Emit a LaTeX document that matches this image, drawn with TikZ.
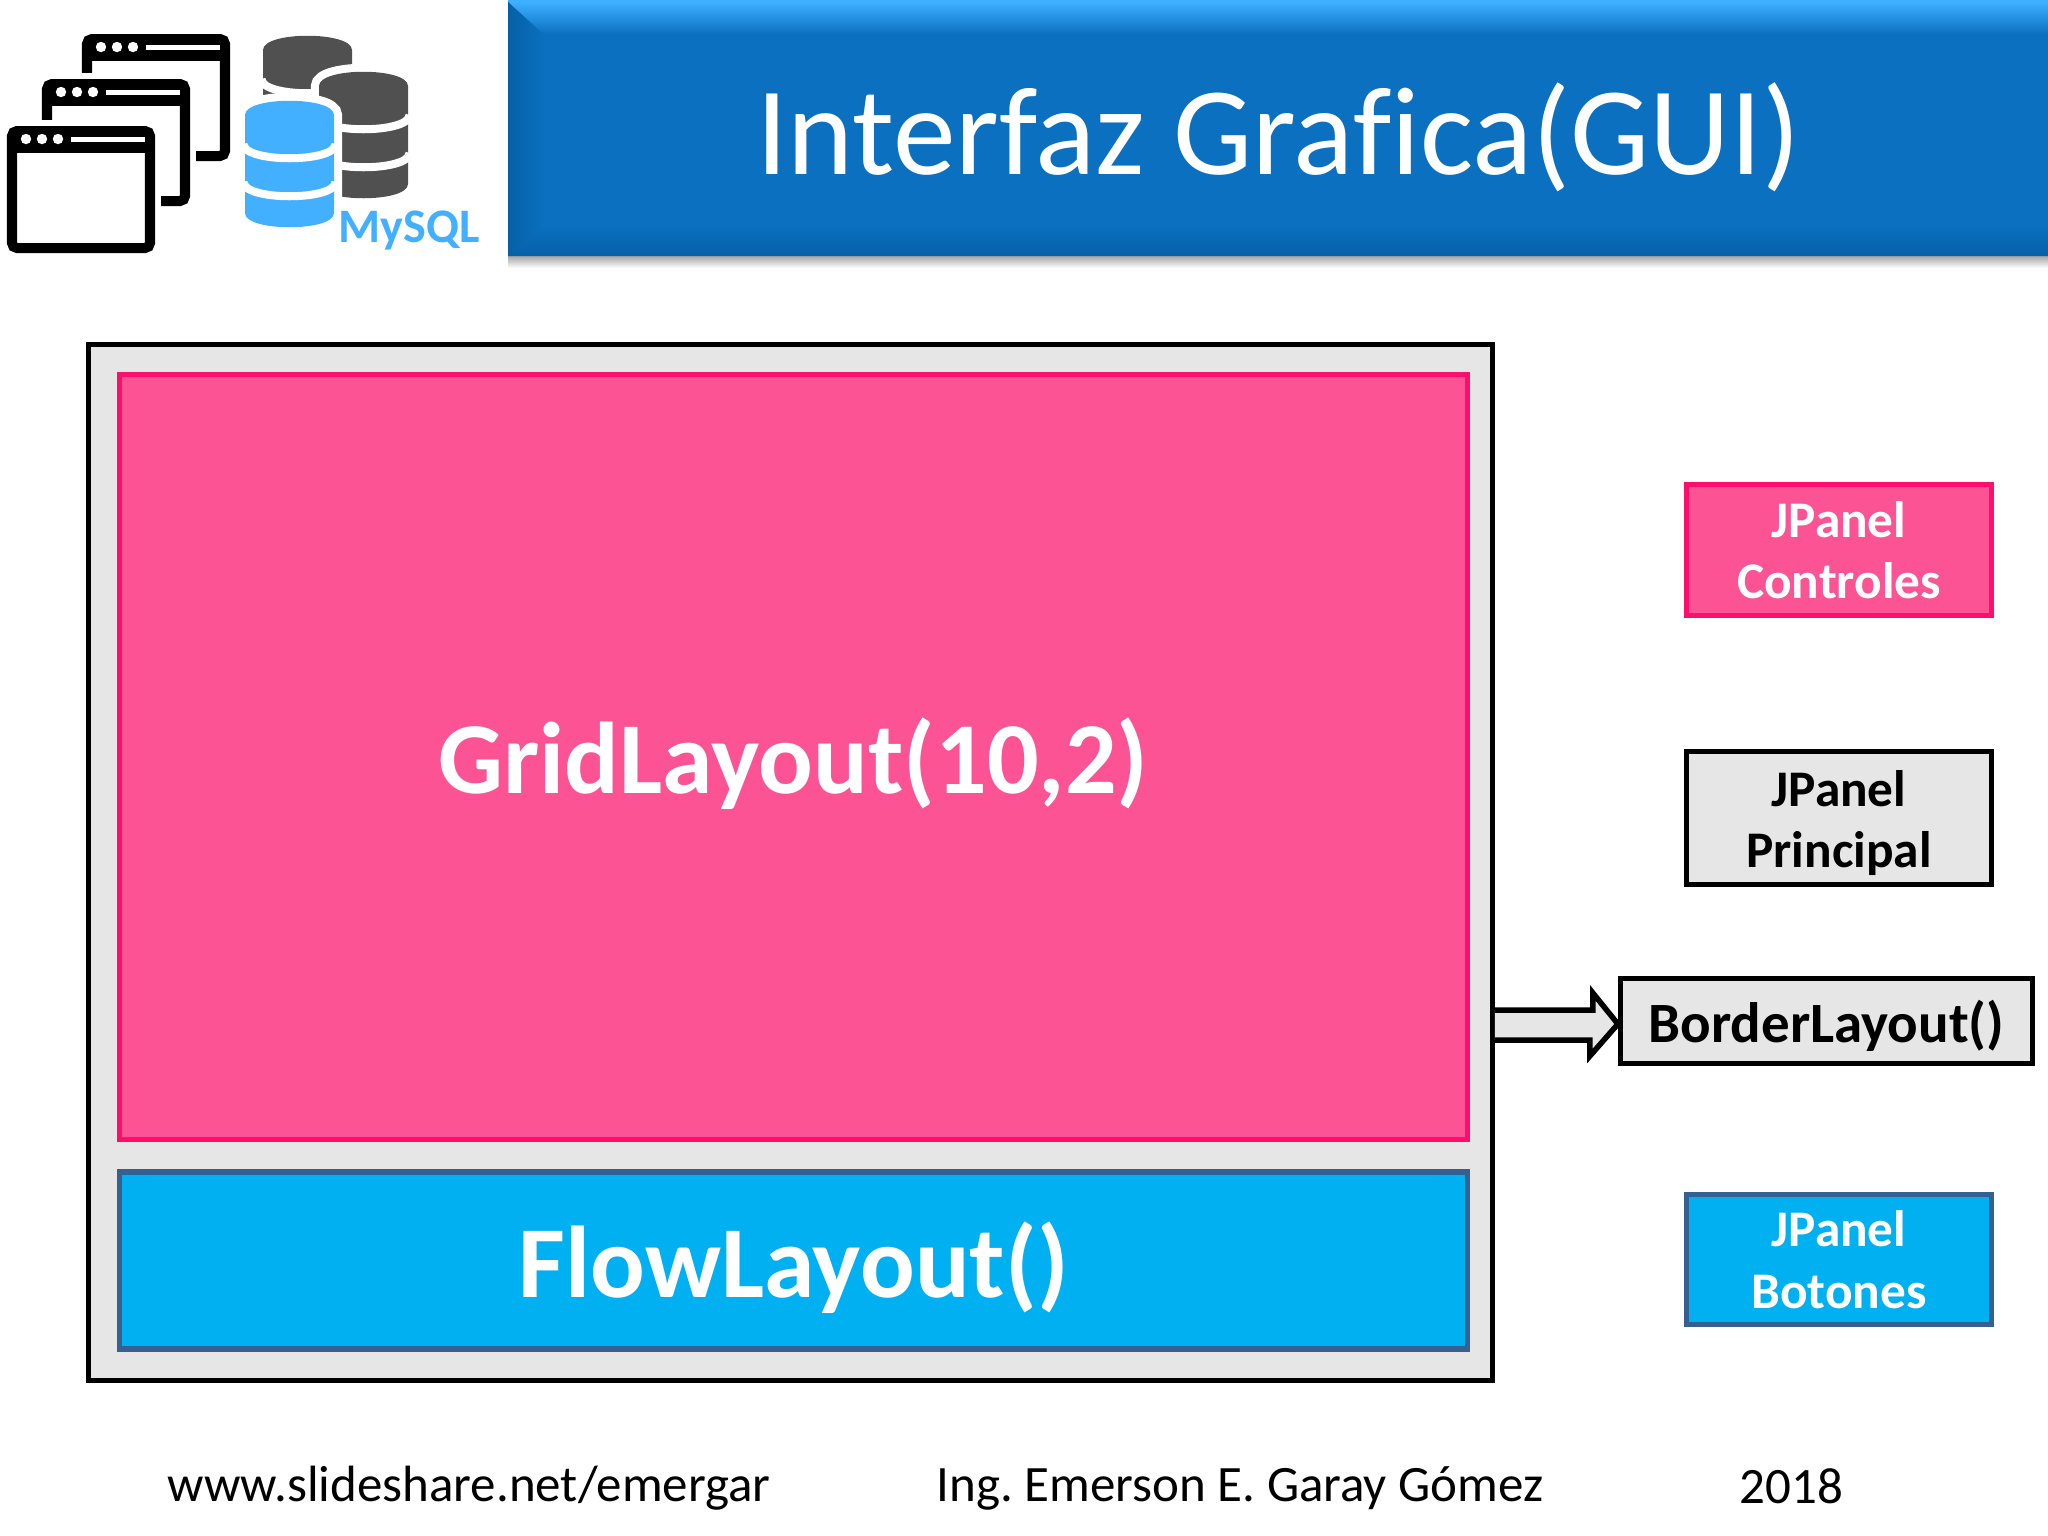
\documentclass[tikz,border=0pt]{standalone}
\usepackage{fontspec}
\setmainfont[Ligatures=NoCommon]{Carlito}
\usetikzlibrary{calc,positioning}
\definecolor{TitleBlue}{HTML}{0A70BF}
\definecolor{TitleLight}{HTML}{3DB0FF}
\definecolor{TitleDark}{HTML}{0660A6}
\definecolor{FrameGray}{HTML}{E7E6E6}
\definecolor{PanelPink}{HTML}{FB5393}
\definecolor{EdgePink}{HTML}{FF0F6C}
\definecolor{PanelBlue}{HTML}{00B0F0}
\definecolor{EdgeBlue}{HTML}{356092}
\definecolor{DbBlue}{HTML}{42B0FF}
\definecolor{DbGray}{HTML}{505050}
\newcommand{\fsize}[1]{\fontsize{#1}{#1}\selectfont}
\newcommand{\dbstack}[3]{%
  \begin{scope}[shift={(#1,#2)}]
    \path[fill=#3,draw=white,line width=0.16cm] (-44.5,14) .. controls (-44.5,-5) and (44.5,-5) .. (44.5,14)
      -- (44.5,112) .. controls (44.5,131) and (-44.5,131) .. (-44.5,112) -- cycle;
    \fill[#3] (-44.5,14) .. controls (-44.5,-5) and (44.5,-5) .. (44.5,14)
      -- (44.5,112) .. controls (44.5,131) and (-44.5,131) .. (-44.5,112) -- cycle;
    \draw[white,line width=0.08cm] (-46,43) .. controls (-46,62) and (46,62) .. (46,43);
    \draw[white,line width=0.08cm] (-46,81) .. controls (-46,100) and (46,100) .. (46,81);
  \end{scope}}
\begin{document}
\frenchspacing
\begin{tikzpicture}[x=0.01cm,y=-0.01cm,
      panel/.style={minimum width=3.04cm,minimum height=1.3cm,align=center,line width=0.05cm,font=\fontsize{14.6}{17.5}\selectfont\bfseries},
      region/.style={minimum width=13.47cm,line width=0.055cm,text=white,font=\fsize{29}\bfseries,text height=0.78cm,text depth=0.05cm},
      credit/.style={font=\fsize{14.5},text=black,inner sep=0pt},
      blockarr/.style={draw=black,fill=FrameGray,line width=0.055cm,line join=miter}]
      \useasboundingbox (0,0) rectangle (2048,1536);
      % title bar
      \shade[top color=black!35,bottom color=white] (508,256) rectangle (2048,268);
      \node[fill=TitleBlue,minimum width=15.4cm,minimum height=2.56cm,inner sep=0pt] (titlebar) at (1278,128) {};
      \shade[top color=TitleLight,bottom color=TitleBlue] (508,2) -- (2048,2) -- (2048,34) -- (543,34) -- cycle;
      \shade[left color=TitleDark,right color=TitleBlue] (508,2) -- (543,34) -- (543,226) -- (508,256) -- cycle;
      \shade[top color=TitleBlue,bottom color=TitleDark] (543,226) -- (2048,226) -- (2048,256) -- (508,256) -- cycle;
      \fill[TitleLight] (508,0) rectangle (2048,2);
      \node[text=white,font=\fsize{35.7}] (titletext) at (1278,137) {Interfaz Grafica(GUI)};
      % windows icon
      \foreach \wx/\wy in {75/-92,35/-47,0/0} {
        \begin{scope}[shift={(\wx,\wy)}]
          \fill[white] (1,120) rectangle (161,259);
          \draw[black,fill=white,line width=0.1cm,rounded corners=0.05cm] (12,131) rectangle (150,248);
          \fill[black] (12,131) rectangle (150,153);
          \foreach \dx in {26,42,58} \fill[white] (\dx,139) circle [radius=0.052cm];
          \fill[white] (71,137) rectangle (145,142);
        \end{scope}}
      % database icon
      \dbstack{307.5}{36}{DbGray}
      \dbstack{363.5}{72}{DbGray}
      \dbstack{289.5}{101}{DbBlue}
      \node[text=DbBlue,inner sep=0pt,font=\fsize{13.7}\bfseries] (dblabel) at (409,230) {MySQL};
      % layout
      \node[draw=black,fill=FrameGray,line width=0.05cm,minimum width=14.03cm,minimum height=10.35cm] (outer) at (790.5,862.5) {};
      \node[region,draw=EdgePink,fill=PanelPink,minimum height=7.65cm] (grid) at (793.5,757) {GridLayout(10,2)};
      \node[region,draw=EdgeBlue,fill=PanelBlue,minimum height=1.77cm] (flow) at (793.5,1260.5) {FlowLayout()};
      \node[panel,draw=EdgePink,fill=PanelPink,text=white] (pcontrols) at (1839,550) {JPanel\\Controles};
      \node[panel,draw=black,fill=FrameGray,text=black,inner ysep=0pt,minimum height=1.33cm] (pmain) at (1839,818) {\rule{0pt}{13pt}JPanel\\Principal};
      \node[panel,draw=EdgeBlue,fill=PanelBlue,text=white] (pbuttons) at (1839,1259.5) {JPanel\\Botones};
      \node[draw=black,fill=FrameGray,line width=0.05cm,minimum width=4.12cm,minimum height=0.84cm,text height=0.52cm,text depth=0.1cm,font=\fsize{16.2}\bfseries] (border) at (1826.5,1021) {BorderLayout()};
      \coordinate (arrstart) at (outer.east |- border.west);
      \draw[blockarr] (arrstart) ++(0,-11) -- ++(98,0) -- ++(0,-17) -- ($(border.west)+(0,3)$) -- ++(-28,32) -- ++(0,-16) -- ($(arrstart)+(0,19)$);
      % footer
      \node[credit,anchor=west] (site) at (167,1488) {www.slideshare.net/emergar};
      \node[credit,anchor=west] (author) at (936,1488) {Ing. Emerson E. Garay Gómez};
      \node[credit,anchor=west] (year) at (1739,1486) {2018};
    \end{tikzpicture}
\end{document}
